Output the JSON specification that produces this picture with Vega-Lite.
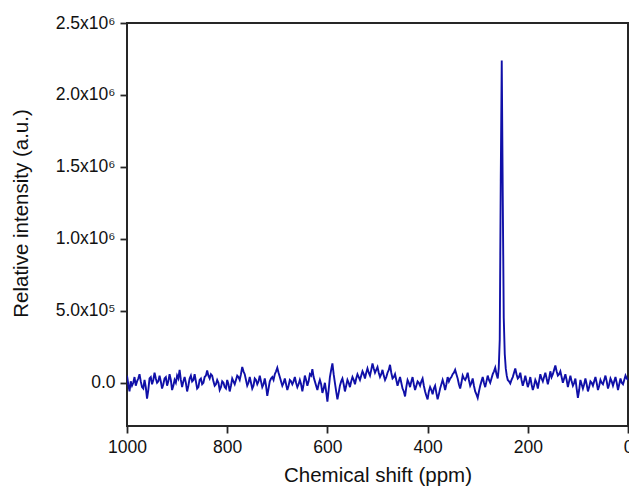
{
  "$schema": "https://vega.github.io/schema/vega-lite/v6.json",
  "width": 501,
  "height": 403,
  "autosize": {"type": "none"},
  "padding": {"left": 127, "top": 23, "right": 1, "bottom": 66},
  "background": "white",
  "config": {
    "view": {"stroke": "#262626", "strokeWidth": 2},
    "font": "Liberation Sans",
    "axis": {
      "domain": false,
      "grid": false,
      "tickColor": "#262626",
      "tickWidth": 1.8,
      "tickSize": 7,
      "labelFlush": false,
      "labelOverlap": false,
      "labelFont": "Liberation Sans",
      "labelFontSize": 17.5,
      "labelColor": "#111111",
      "titleFont": "Liberation Sans",
      "titleFontSize": 20.5,
      "titleFontWeight": "normal",
      "titleColor": "#111111"
    }
  },
  "data": {
    "values": [
      {"ppm": 1000, "y": 50000}, {"ppm": 997.5, "y": -10000}, {"ppm": 995, "y": -60000}, {"ppm": 992.5, "y": 10000},
      {"ppm": 990, "y": -20000}, {"ppm": 987.5, "y": 0}, {"ppm": 985, "y": 40000}, {"ppm": 982.5, "y": -20000},
      {"ppm": 980, "y": 10000}, {"ppm": 977.5, "y": 30000}, {"ppm": 975, "y": 60000}, {"ppm": 972.5, "y": 10000},
      {"ppm": 970, "y": -30000}, {"ppm": 967.5, "y": -40000}, {"ppm": 965, "y": 20000}, {"ppm": 962.5, "y": -30000},
      {"ppm": 960, "y": -110000}, {"ppm": 957.5, "y": -50000}, {"ppm": 955, "y": 30000}, {"ppm": 952.5, "y": 40000},
      {"ppm": 950, "y": -10000}, {"ppm": 947.5, "y": 20000}, {"ppm": 945, "y": 70000}, {"ppm": 942.5, "y": 30000},
      {"ppm": 940, "y": 0}, {"ppm": 937.5, "y": 10000}, {"ppm": 935, "y": 50000}, {"ppm": 932.5, "y": 10000},
      {"ppm": 930, "y": -40000}, {"ppm": 927.5, "y": -10000}, {"ppm": 925, "y": 30000}, {"ppm": 922.5, "y": 40000},
      {"ppm": 920, "y": -20000}, {"ppm": 917.5, "y": 10000}, {"ppm": 915, "y": 60000}, {"ppm": 912.5, "y": 20000},
      {"ppm": 910, "y": -50000}, {"ppm": 907.5, "y": -20000}, {"ppm": 905, "y": 20000}, {"ppm": 902.5, "y": 0},
      {"ppm": 900, "y": 50000}, {"ppm": 897.5, "y": 30000}, {"ppm": 895, "y": 90000}, {"ppm": 892.5, "y": 20000},
      {"ppm": 890, "y": -30000}, {"ppm": 887.5, "y": 10000}, {"ppm": 885, "y": 40000}, {"ppm": 882.5, "y": 0},
      {"ppm": 880, "y": -60000}, {"ppm": 877.5, "y": -20000}, {"ppm": 875, "y": 30000}, {"ppm": 872.5, "y": 50000},
      {"ppm": 870, "y": 10000}, {"ppm": 867.5, "y": 20000}, {"ppm": 865, "y": 60000}, {"ppm": 862.5, "y": 10000},
      {"ppm": 860, "y": -40000}, {"ppm": 857.5, "y": -30000}, {"ppm": 855, "y": 20000}, {"ppm": 852.5, "y": 30000},
      {"ppm": 850, "y": -10000}, {"ppm": 847.5, "y": 0}, {"ppm": 845, "y": 40000}, {"ppm": 842.5, "y": 50000},
      {"ppm": 840, "y": 85000}, {"ppm": 837.5, "y": 50000}, {"ppm": 835, "y": 30000}, {"ppm": 832.5, "y": 60000},
      {"ppm": 830, "y": 50000}, {"ppm": 827.5, "y": 10000}, {"ppm": 825, "y": -20000}, {"ppm": 822.5, "y": -10000},
      {"ppm": 820, "y": 20000}, {"ppm": 817.5, "y": 0}, {"ppm": 815, "y": -50000}, {"ppm": 812.5, "y": -30000},
      {"ppm": 810, "y": 10000}, {"ppm": 807.5, "y": 0}, {"ppm": 805, "y": -30000}, {"ppm": 802.5, "y": -40000},
      {"ppm": 800, "y": 20000}, {"ppm": 797.5, "y": -10000}, {"ppm": 795, "y": -60000}, {"ppm": 792.5, "y": -20000},
      {"ppm": 790, "y": 30000}, {"ppm": 787.5, "y": 10000}, {"ppm": 785, "y": -10000}, {"ppm": 782.5, "y": 20000},
      {"ppm": 780, "y": 50000}, {"ppm": 777.5, "y": 40000}, {"ppm": 775, "y": 20000}, {"ppm": 772.5, "y": 60000},
      {"ppm": 770, "y": 110000}, {"ppm": 767.5, "y": 80000}, {"ppm": 765, "y": 60000}, {"ppm": 762.5, "y": 20000},
      {"ppm": 760, "y": -20000}, {"ppm": 757.5, "y": 0}, {"ppm": 755, "y": 40000}, {"ppm": 752.5, "y": 0},
      {"ppm": 750, "y": -40000}, {"ppm": 747.5, "y": -20000}, {"ppm": 745, "y": 30000}, {"ppm": 742.5, "y": 20000},
      {"ppm": 740, "y": -10000}, {"ppm": 737.5, "y": 10000}, {"ppm": 735, "y": 50000}, {"ppm": 732.5, "y": 10000},
      {"ppm": 730, "y": -30000}, {"ppm": 727.5, "y": -10000}, {"ppm": 725, "y": 30000}, {"ppm": 722.5, "y": -20000},
      {"ppm": 720, "y": -90000}, {"ppm": 717.5, "y": -40000}, {"ppm": 715, "y": 10000}, {"ppm": 712.5, "y": 30000},
      {"ppm": 710, "y": 40000}, {"ppm": 707.5, "y": 20000}, {"ppm": 705, "y": 60000}, {"ppm": 702.5, "y": 80000},
      {"ppm": 700, "y": 105000}, {"ppm": 697.5, "y": 70000}, {"ppm": 695, "y": 40000}, {"ppm": 692.5, "y": 10000},
      {"ppm": 690, "y": -20000}, {"ppm": 687.5, "y": 0}, {"ppm": 685, "y": 30000}, {"ppm": 682.5, "y": -10000},
      {"ppm": 680, "y": -50000}, {"ppm": 677.5, "y": -20000}, {"ppm": 675, "y": 20000}, {"ppm": 672.5, "y": 10000},
      {"ppm": 670, "y": -10000}, {"ppm": 667.5, "y": 10000}, {"ppm": 665, "y": 40000}, {"ppm": 662.5, "y": 0},
      {"ppm": 660, "y": -30000}, {"ppm": 657.5, "y": -10000}, {"ppm": 655, "y": 20000}, {"ppm": 652.5, "y": -10000},
      {"ppm": 650, "y": -60000}, {"ppm": 647.5, "y": -10000}, {"ppm": 645, "y": 50000}, {"ppm": 642.5, "y": 20000},
      {"ppm": 640, "y": -20000}, {"ppm": 637.5, "y": 10000}, {"ppm": 635, "y": 60000}, {"ppm": 632.5, "y": 50000},
      {"ppm": 630, "y": 95000}, {"ppm": 627.5, "y": 40000}, {"ppm": 625, "y": 10000}, {"ppm": 622.5, "y": -20000},
      {"ppm": 620, "y": -50000}, {"ppm": 617.5, "y": -10000}, {"ppm": 615, "y": 20000}, {"ppm": 612.5, "y": -10000},
      {"ppm": 610, "y": -70000}, {"ppm": 607.5, "y": -40000}, {"ppm": 605, "y": 0}, {"ppm": 602.5, "y": -60000},
      {"ppm": 600, "y": -130000}, {"ppm": 597.5, "y": -50000}, {"ppm": 595, "y": 40000}, {"ppm": 592.5, "y": 90000},
      {"ppm": 590, "y": 135000}, {"ppm": 587.5, "y": 60000}, {"ppm": 585, "y": 0}, {"ppm": 582.5, "y": -60000},
      {"ppm": 580, "y": -115000}, {"ppm": 577.5, "y": -70000}, {"ppm": 575, "y": -20000}, {"ppm": 572.5, "y": 10000},
      {"ppm": 570, "y": 30000}, {"ppm": 567.5, "y": -10000}, {"ppm": 565, "y": -60000}, {"ppm": 562.5, "y": -20000},
      {"ppm": 560, "y": 20000}, {"ppm": 557.5, "y": 0}, {"ppm": 555, "y": -30000}, {"ppm": 552.5, "y": 10000},
      {"ppm": 550, "y": 40000}, {"ppm": 547.5, "y": 20000}, {"ppm": 545, "y": -10000}, {"ppm": 542.5, "y": 30000},
      {"ppm": 540, "y": 60000}, {"ppm": 537.5, "y": 40000}, {"ppm": 535, "y": 20000}, {"ppm": 532.5, "y": 50000},
      {"ppm": 530, "y": 80000}, {"ppm": 527.5, "y": 60000}, {"ppm": 525, "y": 30000}, {"ppm": 522.5, "y": 70000},
      {"ppm": 520, "y": 100000}, {"ppm": 517.5, "y": 70000}, {"ppm": 515, "y": 50000}, {"ppm": 512.5, "y": 90000},
      {"ppm": 510, "y": 135000}, {"ppm": 507.5, "y": 100000}, {"ppm": 505, "y": 70000}, {"ppm": 502.5, "y": 90000},
      {"ppm": 500, "y": 110000}, {"ppm": 497.5, "y": 70000}, {"ppm": 495, "y": 40000}, {"ppm": 492.5, "y": 60000},
      {"ppm": 490, "y": 90000}, {"ppm": 487.5, "y": 50000}, {"ppm": 485, "y": 20000}, {"ppm": 482.5, "y": 40000},
      {"ppm": 480, "y": 70000}, {"ppm": 477.5, "y": 90000}, {"ppm": 475, "y": 125000}, {"ppm": 472.5, "y": 70000},
      {"ppm": 470, "y": 30000}, {"ppm": 467.5, "y": 40000}, {"ppm": 465, "y": 60000}, {"ppm": 462.5, "y": 20000},
      {"ppm": 460, "y": -20000}, {"ppm": 457.5, "y": 10000}, {"ppm": 455, "y": 40000}, {"ppm": 452.5, "y": 0},
      {"ppm": 450, "y": -40000}, {"ppm": 447.5, "y": -60000}, {"ppm": 445, "y": -95000}, {"ppm": 442.5, "y": -30000},
      {"ppm": 440, "y": 20000}, {"ppm": 437.5, "y": 0}, {"ppm": 435, "y": -30000}, {"ppm": 432.5, "y": 10000},
      {"ppm": 430, "y": 40000}, {"ppm": 427.5, "y": -10000}, {"ppm": 425, "y": -50000}, {"ppm": 422.5, "y": -20000},
      {"ppm": 420, "y": 10000}, {"ppm": 417.5, "y": 0}, {"ppm": 415, "y": -20000}, {"ppm": 412.5, "y": 10000},
      {"ppm": 410, "y": 30000}, {"ppm": 407.5, "y": -20000}, {"ppm": 405, "y": -60000}, {"ppm": 402.5, "y": -90000},
      {"ppm": 400, "y": -115000}, {"ppm": 397.5, "y": -60000}, {"ppm": 395, "y": -30000}, {"ppm": 392.5, "y": -50000},
      {"ppm": 390, "y": -80000}, {"ppm": 387.5, "y": -40000}, {"ppm": 385, "y": -20000}, {"ppm": 382.5, "y": -70000},
      {"ppm": 380, "y": -115000}, {"ppm": 377.5, "y": -80000}, {"ppm": 375, "y": -40000}, {"ppm": 372.5, "y": -10000},
      {"ppm": 370, "y": 20000}, {"ppm": 367.5, "y": -10000}, {"ppm": 365, "y": -50000}, {"ppm": 362.5, "y": -10000},
      {"ppm": 360, "y": 40000}, {"ppm": 357.5, "y": 10000}, {"ppm": 355, "y": 30000}, {"ppm": 352.5, "y": 40000},
      {"ppm": 350, "y": 60000}, {"ppm": 347.5, "y": 70000}, {"ppm": 345, "y": 90000}, {"ppm": 342.5, "y": 60000},
      {"ppm": 340, "y": 30000}, {"ppm": 337.5, "y": -10000}, {"ppm": 335, "y": -40000}, {"ppm": 332.5, "y": 0},
      {"ppm": 330, "y": 50000}, {"ppm": 327.5, "y": 30000}, {"ppm": 325, "y": 20000}, {"ppm": 322.5, "y": 40000},
      {"ppm": 320, "y": 70000}, {"ppm": 317.5, "y": 20000}, {"ppm": 315, "y": -20000}, {"ppm": 312.5, "y": 0},
      {"ppm": 310, "y": 30000}, {"ppm": 307.5, "y": -20000}, {"ppm": 305, "y": -60000}, {"ppm": 302.5, "y": -80000},
      {"ppm": 300, "y": -105000}, {"ppm": 297.5, "y": -60000}, {"ppm": 295, "y": -20000}, {"ppm": 292.5, "y": 10000},
      {"ppm": 290, "y": 40000}, {"ppm": 287.5, "y": 0}, {"ppm": 285, "y": -30000}, {"ppm": 282.5, "y": 10000},
      {"ppm": 280, "y": 50000}, {"ppm": 277.5, "y": 20000}, {"ppm": 275, "y": 0}, {"ppm": 272.5, "y": 30000},
      {"ppm": 270, "y": 60000}, {"ppm": 267.5, "y": 80000}, {"ppm": 265, "y": 105000}, {"ppm": 262.5, "y": 60000},
      {"ppm": 260, "y": 30000}, {"ppm": 258, "y": 100000}, {"ppm": 256, "y": 300000}, {"ppm": 254, "y": 1400000},
      {"ppm": 252, "y": 2240000}, {"ppm": 250, "y": 1300000}, {"ppm": 248, "y": 450000}, {"ppm": 246, "y": 200000},
      {"ppm": 244, "y": 100000}, {"ppm": 242, "y": 50000}, {"ppm": 240, "y": 20000}, {"ppm": 237.5, "y": 10000},
      {"ppm": 235, "y": -5000}, {"ppm": 232.5, "y": 20000}, {"ppm": 230, "y": 40000}, {"ppm": 227.5, "y": 70000},
      {"ppm": 225, "y": 100000}, {"ppm": 222.5, "y": 60000}, {"ppm": 220, "y": 30000}, {"ppm": 217.5, "y": 40000},
      {"ppm": 215, "y": 70000}, {"ppm": 212.5, "y": 20000}, {"ppm": 210, "y": -20000}, {"ppm": 207.5, "y": 10000},
      {"ppm": 205, "y": 50000}, {"ppm": 202.5, "y": 10000}, {"ppm": 200, "y": -30000}, {"ppm": 197.5, "y": 0},
      {"ppm": 195, "y": 40000}, {"ppm": 192.5, "y": -10000}, {"ppm": 190, "y": -50000}, {"ppm": 187.5, "y": -20000},
      {"ppm": 185, "y": 20000}, {"ppm": 182.5, "y": 0}, {"ppm": 180, "y": -40000}, {"ppm": 177.5, "y": 10000},
      {"ppm": 175, "y": 60000}, {"ppm": 172.5, "y": 30000}, {"ppm": 170, "y": 10000}, {"ppm": 167.5, "y": 40000},
      {"ppm": 165, "y": 70000}, {"ppm": 162.5, "y": 30000}, {"ppm": 160, "y": -10000}, {"ppm": 157.5, "y": 30000},
      {"ppm": 155, "y": 80000}, {"ppm": 152.5, "y": 40000}, {"ppm": 150, "y": 60000}, {"ppm": 147.5, "y": 90000},
      {"ppm": 145, "y": 120000}, {"ppm": 142.5, "y": 80000}, {"ppm": 140, "y": 50000}, {"ppm": 137.5, "y": 60000},
      {"ppm": 135, "y": 80000}, {"ppm": 132.5, "y": 40000}, {"ppm": 130, "y": 0}, {"ppm": 127.5, "y": 30000},
      {"ppm": 125, "y": 60000}, {"ppm": 122.5, "y": 20000}, {"ppm": 120, "y": -30000}, {"ppm": 117.5, "y": 10000},
      {"ppm": 115, "y": 50000}, {"ppm": 112.5, "y": 10000}, {"ppm": 110, "y": -20000}, {"ppm": 107.5, "y": 0},
      {"ppm": 105, "y": 30000}, {"ppm": 102.5, "y": -40000}, {"ppm": 100, "y": -105000}, {"ppm": 97.5, "y": -50000},
      {"ppm": 95, "y": 20000}, {"ppm": 92.5, "y": -10000}, {"ppm": 90, "y": -40000}, {"ppm": 87.5, "y": -10000},
      {"ppm": 85, "y": 30000}, {"ppm": 82.5, "y": -10000}, {"ppm": 80, "y": -60000}, {"ppm": 77.5, "y": -30000},
      {"ppm": 75, "y": 10000}, {"ppm": 72.5, "y": 0}, {"ppm": 70, "y": -20000}, {"ppm": 67.5, "y": 10000},
      {"ppm": 65, "y": 40000}, {"ppm": 62.5, "y": 0}, {"ppm": 60, "y": -50000}, {"ppm": 57.5, "y": -20000},
      {"ppm": 55, "y": 20000}, {"ppm": 52.5, "y": 0}, {"ppm": 50, "y": -10000}, {"ppm": 47.5, "y": 20000},
      {"ppm": 45, "y": 50000}, {"ppm": 42.5, "y": 10000}, {"ppm": 40, "y": -40000}, {"ppm": 37.5, "y": -10000},
      {"ppm": 35, "y": 30000}, {"ppm": 32.5, "y": 10000}, {"ppm": 30, "y": -20000}, {"ppm": 27.5, "y": 10000},
      {"ppm": 25, "y": 40000}, {"ppm": 22.5, "y": 0}, {"ppm": 20, "y": -50000}, {"ppm": 17.5, "y": -10000},
      {"ppm": 15, "y": 30000}, {"ppm": 12.5, "y": 0}, {"ppm": 10, "y": -10000}, {"ppm": 7.5, "y": 20000},
      {"ppm": 5, "y": 50000}, {"ppm": 2.5, "y": 30000}, {"ppm": 0, "y": 20000}
    ]
  },
  "mark": {"type": "line", "color": "#1010a8", "strokeWidth": 1.9, "clip": true},
  "encoding": {
    "x": {
      "field": "ppm",
      "type": "quantitative",
      "scale": {"domain": [1000, 0], "nice": false, "zero": false},
      "axis": {"values": [1000, 800, 600, 400, 200, 0], "title": "Chemical shift (ppm)", "labelPadding": 5, "titlePadding": 10, "format": "d"}
    },
    "y": {
      "field": "y",
      "type": "quantitative",
      "scale": {"domain": [-300000, 2500000], "nice": false, "zero": false},
      "axis": {
        "values": [0, 500000, 1000000, 1500000, 2000000, 2500000],
        "labelExpr": "datum.value == 0 ? '0.0' : (datum.value < 1000000 ? format(datum.value / 100000, '.1f') + 'x10⁵' : format(datum.value / 1000000, '.1f') + 'x10⁶')",
        "title": "Relative intensity (a.u.)",
        "labelPadding": 5,
        "titlePadding": 24,
        "titleY": 190
      }
    },
    "order": {"field": "ppm", "sort": "descending"}
  }
}
